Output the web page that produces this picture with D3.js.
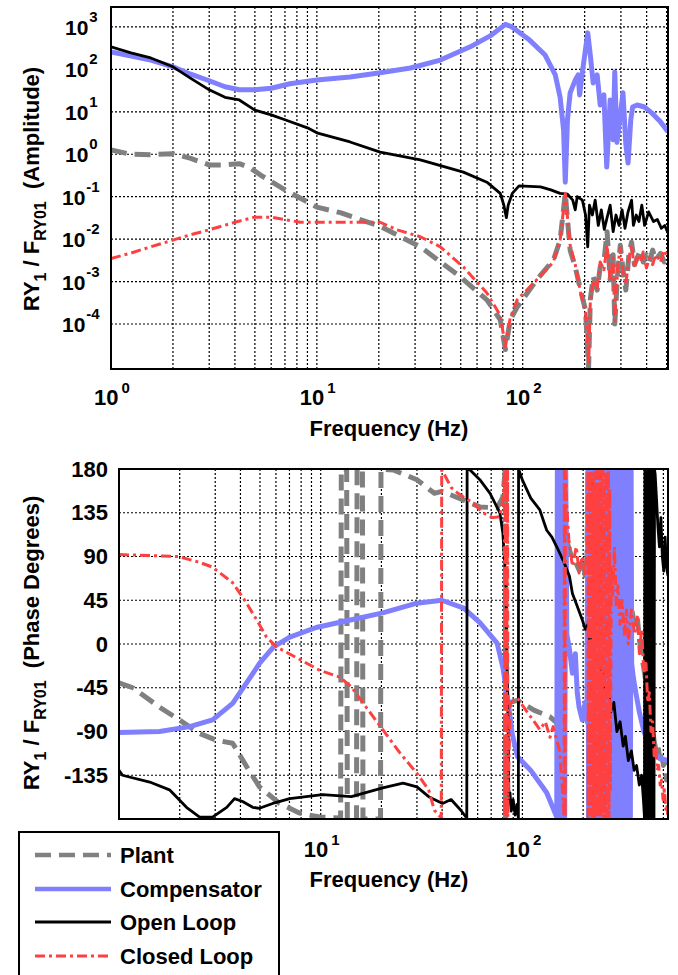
<!DOCTYPE html>
<html><head><meta charset="utf-8">
<script src="https://cdn.jsdelivr.net/npm/d3@7"></script>
<style>
body{margin:0;background:#fff;}
svg{display:block;font-family:"Liberation Sans",Arial,sans-serif;font-weight:bold;}
</style></head><body>
<svg id="c" width="678" height="975"></svg>
<script>
// ---------------- data ----------------
const seriesNames = ["Plant", "Compensator", "Open Loop", "Closed Loop"];
const ampTicks = [1e-4, 1e-3, 1e-2, 1e-1, 1e0, 1e1, 1e2, 1e3];
const ampExponents = ["-4", "-3", "-2", "-1", "0", "1", "2", "3"];
const phaseTicks = [-135, -90, -45, 0, 45, 90, 135, 180];
const freqTicksTop = [1, 10, 100];
const freqExponentsTop = ["0", "1", "2"];
const freqTicksBottom = [10, 100];
const freqExponentsBottom = ["1", "2"];

// magnitude [Hz, amplitude]
const plantMag = [[1,1.26],[1.25,1.0],[1.56,0.98],[2,1.03],[2.42,0.81],[3,0.56],[3.58,0.56],[4.2,0.6],[4.74,0.48],[5.4,0.31],[7,0.145],[10,0.057],[13,0.042],[20.3,0.02],[31.8,0.0066],[49.7,0.0013],[67,3.7e-4],[77.8,1.26e-4],[82.4,2.5e-5],[87,1.26e-4],[94,2.5e-4],[117,1.1e-3],[141,3.2e-3],[152,9.5e-3],[161,0.12],[170,5.5e-3],[180,2.2e-3],[191,6.3e-4],[202,2.1e-4],[209,9e-6],[213,3.7e-4],[220,1.3e-3],[230,6.3e-4],[238,2.2e-3],[248,2.9e-3],[257,0.015],[266,1.1e-3],[275,4.3e-3],[280,1e-4],[290,1.9e-3],[298,7.2e-3],[307,1.9e-3],[317,6.3e-4],[328,4.3e-3],[338,8.5e-3],[349,2.5e-3],[360,3.6e-3],[373,5.5e-3],[385,2.9e-3],[399,4.3e-3],[413,2.9e-3],[428,5.5e-3],[442,3.2e-3],[467,4.6e-3],[488,2.9e-3],[508,4.6e-3]];
const compMag = [[1,257],[1.56,166],[2,115],[2.42,78],[3,54],[3.58,39],[4.2,33],[5,33],[6,36],[7.4,46],[10,56],[14.5,66],[20.3,83],[28.5,108],[39.8,166],[55.6,340],[69.5,615],[82.4,1150],[88.7,1000],[108,490],[128.5,218],[144,74],[152,22],[158,3.7],[161,0.22],[165,6.5],[170,28],[180,56],[186,74],[189,25],[195,87],[207,725],[213,218],[220,48],[230,74],[238,14.5],[248,25],[256,0.5],[266,19],[275,2.2],[280,87],[287,1.9],[298,8.5],[307,28],[317,1.7],[325,0.62],[335,6.5],[342,13],[360,14.5],[390,13],[425,9.3],[467,5.8],[508,3.4]];
const openMag = [[1,340],[1.25,245],[1.56,186],[2,115],[2.42,63],[3,33],[3.58,22],[4.2,19],[5,11],[6,8.5],[7,6.5],[9,4.2],[10,3.2],[14.5,1.95],[20.3,1.12],[31.8,0.74],[51.5,0.38],[67,0.22],[77.8,0.12],[81,0.063],[83.3,0.032],[85,0.063],[89,0.12],[96,0.18],[122,0.17],[137,0.145],[152,0.12],[165,0.115],[175,0.083],[180,0.049],[184,0.10],[195,0.083],[202,0.037],[207,0.0066],[211,0.063],[218,0.037],[225,0.083],[233,0.021],[241,0.049],[249,0.017],[257,0.032],[266,0.063],[275,0.015],[284,0.037],[294,0.021],[304,0.049],[314,0.018],[325,0.044],[338,0.083],[345,0.021],[356,0.037],[367,0.026],[379,0.063],[391,0.021],[409,0.044],[432,0.026],[451,0.029],[472,0.018],[490,0.021],[508,0.014]];
const closedMag = [[1,3.5e-3],[1.25,4.7e-3],[1.56,6.6e-3],[2,9.5e-3],[2.42,0.0126],[3,0.0166],[4,0.025],[5,0.033],[6,0.033],[8.3,0.025],[11.6,0.025],[20.3,0.025],[24.5,0.0166],[31.8,0.0114],[39.8,0.0066],[51.5,0.0022],[67,5.4e-4],[77.8,1.6e-4],[82.4,2.9e-5],[87,1.4e-4],[94,3.7e-4],[117,1.1e-3],[141,2.9e-3],[152,9.5e-3],[161,0.12],[170,7.2e-3],[180,2.5e-3],[191,5.6e-4],[202,1.9e-4],[209,1.1e-5],[213,3.3e-4],[220,1.1e-3],[230,7e-4],[238,2.9e-3],[248,1.9e-3],[257,7.2e-3],[266,1e-3],[275,3.6e-3],[280,1.2e-4],[290,2.5e-3],[298,6.2e-3],[307,1.7e-3],[317,8.5e-4],[328,3.6e-3],[338,7.2e-3],[349,2.1e-3],[360,4.3e-3],[373,2.9e-3],[385,5e-3],[399,2.1e-3],[413,3.6e-3],[428,2.5e-3],[442,4.3e-3],[467,2.9e-3],[488,5.5e-3],[508,3.6e-3]];

// phase [Hz, degrees]
const plantPhase = [[1,-40],[1.17,-45],[1.59,-65],[1.99,-78],[2.51,-92],[3.04,-99],[3.66,-102],[4.29,-126],[4.97,-147],[6.26,-164],[7.88,-174],[9.87,-178],[12.4,-179],[12.55,-180],[12.65,180],[13.45,180],[13.55,-180],[15.05,-180],[15.15,180],[16.1,180],[16.2,-180],[19.8,-180],[19.9,180],[22.9,179],[30,169],[36.6,155],[39.8,157],[51.2,148],[61.5,141],[74.9,140],[80,151],[81.8,175],[82.4,180],[82.5,-180],[84,-120],[86.8,-60],[94.6,-58],[114,-68],[137,-75],[148,-81],[152,-100],[156,-150],[158,-180],[158.3,180],[162,130],[167,104],[175,90],[183,85],[191,76],[198,88],[205,70],[209,90],[211,178],[213,-178],[215,175],[217,-175],[219,178],[221,-170],[223,178],[225,-178],[228,165],[230,-178],[232,178],[235,-165],[237,178],[240,-178],[242,170],[245,-178],[247,178],[250,-170],[252,178],[255,-178],[257,168],[260,-178],[262,178],[265,-175],[267,178],[270,-178],[274,120],[280,60],[286,90],[292,45],[300,60],[310,30],[320,45],[330,20],[347,40],[360,15],[372,25],[385,-5],[400,-25],[410,-40],[420,-55],[430,-70],[440,-85],[450,-100],[460,-110],[470,-105],[480,-118],[490,-112],[500,-125],[510,-120],[518,-140],[527,-135]];
const compPhase = [[1,-91],[1.59,-90],[2.24,-85],[2.91,-78],[3.66,-61],[4.29,-40],[4.97,-20],[5.84,-3],[7.03,7],[9.5,17],[14.2,25],[20.3,32],[30,42],[39.8,45],[51.2,37],[61.5,22],[74.9,1],[80,-24],[84.8,-58],[88.9,-92],[94.6,-116],[110,-130],[132,-153],[148,-178],[149,178],[150,-178],[152,178],[153,-178],[155,178],[156,-178],[158,178],[159,-178],[161,178],[162,-178],[164,178],[166,10],[171,-5],[177,-30],[183,-10],[187,-50],[191,-65],[198,-78],[205,-60],[209,-80],[211,178],[213,-178],[216,178],[219,-178],[222,178],[225,-178],[228,178],[231,-178],[234,178],[237,-178],[240,178],[243,-178],[246,178],[249,-178],[252,178],[255,-178],[258,178],[261,-178],[264,178],[267,-178],[270,178],[273,-178],[278,-60],[282,-100],[284,178],[286,-178],[288,178],[291,-178],[293,178],[296,-178],[298,178],[301,-178],[304,178],[307,-178],[310,178],[313,-178],[316,178],[319,-178],[322,178],[325,-178],[328,178],[331,-178],[334,178],[337,-178],[340,178],[343,-178],[346,178],[348,-20],[355,-35],[365,-50],[380,-70],[400,-90],[430,-105],[460,-115],[490,-118],[527,-120]];
const openPhase = [[1,-130],[1.04,-135],[1.42,-142],[1.78,-150],[2.16,-168],[2.51,-178],[2.91,-178],[3.42,-168],[3.74,-159],[4.1,-162],[4.6,-168],[4.97,-169],[5.78,-164],[7.03,-159],[10.2,-155],[14.2,-157],[20.3,-148],[25.6,-143],[30,-147],[34.3,-157],[40.2,-164],[44.3,-160],[49.5,-171],[53,-179],[53.2,180],[55,179],[61.5,169],[69.1,155],[77.3,135],[80,114],[82.9,63],[83.8,-6],[84.8,-78],[85.8,-165],[86.8,-153],[88,-172],[90,-160],[92,-176],[94,-165],[95.5,-179],[95.7,180],[100.3,168],[110,150],[122,138],[128,125],[132,117],[140,110],[148,100],[160,85],[171,70],[177,52],[186,40],[198,25],[205,15],[211,20],[216,0],[222,5],[229,-15],[237,-10],[243,-35],[250,-25],[258,-50],[265,-40],[274,-70],[284,-60],[294,-90],[305,-80],[316,-105],[324,-95],[335,-120],[347,-110],[358,-130],[368,-125],[380,-145],[390,-135],[398,-160],[403,-179],[405,179],[407,-179],[410,179],[413,-179],[416,179],[419,-179],[422,179],[425,-179],[428,179],[431,-179],[434,179],[437,-179],[440,179],[443,-179],[446,179],[449,-179],[452,179],[455,175],[462,150],[470,120],[478,100],[486,130],[494,90],[502,75],[510,110],[518,80],[527,70]];
const closedPhase = [[1,92],[1.97,90],[2.51,84],[2.91,79],[3.66,63],[4.2,45],[4.81,25],[5.39,7],[6.05,-3],[7.88,-16],[9.87,-27],[12.4,-34],[14.2,-44],[16.8,-65],[20.3,-88],[24.7,-112],[30,-133],[34.3,-150],[36.6,-171],[39.6,-179],[39.8,179],[40.2,178],[44.3,161],[47.9,155],[51.2,151],[57,145],[63.8,135],[71.3,130],[77.3,131],[80,148],[81.5,175],[81.6,-178],[82.6,178],[82.8,-178],[84.5,178],[84.7,-178],[86.8,-61],[94.6,-56],[110,-75],[122,-88],[130,-80],[137,-96],[142,-85],[148,-99],[153,-110],[158,-150],[161,-178],[161.3,178],[163,-178],[163.3,178],[166,140],[170,107],[177,80],[185,100],[191,73],[198,90],[205,70],[209,100],[211,178],[212,-178],[214,160],[215,-175],[217,178],[219,-160],[220,175],[222,-178],[224,170],[225,-170],[227,178],[229,-178],[231,150],[233,-175],[235,178],[237,-178],[239,165],[241,-170],[243,178],[245,-178],[247,172],[249,-165],[251,178],[253,-178],[255,168],[257,-175],[259,178],[261,-178],[263,175],[265,-170],[267,178],[269,-178],[271,160],[273,-150],[276,80],[280,50],[286,100],[292,40],[298,60],[305,20],[312,45],[320,10],[328,35],[335,0],[347,35],[360,10],[372,30],[380,-10],[390,15],[400,-30],[410,-20],[418,-60],[426,-50],[434,-90],[442,-80],[450,-115],[458,-105],[466,-130],[474,-125],[482,-145],[490,-140],[498,-160],[506,-150],[514,-170],[520,-165],[527,-178]];

// ---------------- drawing ----------------
const styles = {
  "Plant":       {color:"#808080", width:5,   dash:"16,8"},
  "Compensator": {color:"#8080ff", width:5,   dash:null},
  "Open Loop":   {color:"#000000", width:2.8, dash:null},
  "Closed Loop": {color:"#ff4040", width:3,   dash:"10,4,3,4"}
};
const magData = {"Plant":plantMag, "Compensator":compMag, "Open Loop":openMag, "Closed Loop":closedMag};
const phaseData = {"Plant":plantPhase, "Compensator":compPhase, "Open Loop":openPhase, "Closed Loop":closedPhase};

const svg = d3.select("#c");
const pA = {l:111, r:668, t:7, b:369};
const pB = {l:119, r:668, t:469, b:819};

const xA = d3.scaleLog().domain([1, 508]).range([pA.l, pA.r]);
const yA = d3.scaleLog().domain([Math.pow(10,-5.06), Math.pow(10,3.47)]).range([pA.b, pA.t]);
const xB = d3.scaleLog().domain([1, 527]).range([pB.l, pB.r]);
const yB = d3.scaleLinear().domain([-180, 180]).range([pB.b, pB.t]);

const defs = svg.append("defs");
[["clipA",pA],["clipB",pB]].forEach(([id,p])=>{
  defs.append("clipPath").attr("id",id).append("rect")
    .attr("x",p.l).attr("y",p.t).attr("width",p.r-p.l).attr("height",p.b-p.t);
});

function minorFreqs(x){
  const [a,b] = x.domain(); const out=[];
  [1,10,100].forEach(d=>{ for(let k=1;k<=9;k++){ const f=k*d; if(f>a*1.001 && f<b*0.999) out.push(f);} });
  return out;
}
function grid(p, x, y, hvals){
  const g = svg.append("g").attr("stroke","#000").attr("stroke-width",1.2).attr("stroke-dasharray","2,2");
  minorFreqs(x).forEach(f=>{
    g.append("line").attr("x1",x(f)).attr("x2",x(f)).attr("y1",p.t).attr("y2",p.b);
  });
  hvals.forEach(v=>{
    const yy=y(v); if(yy<=p.t+1||yy>=p.b-1) return;
    g.append("line").attr("x1",p.l).attr("x2",p.r).attr("y1",yy).attr("y2",yy);
  });
}
grid(pA, xA, yA, ampTicks);
grid(pB, xB, yB, phaseTicks);

function drawSeries(clip, x, y, dataMap){
  const g = svg.append("g").attr("clip-path",`url(#${clip})`);
  const line = d3.line().x(d=>x(d[0])).y(d=>y(d[1]));
  seriesNames.forEach(n=>{
    const s=styles[n];
    g.append("path").attr("d",line(dataMap[n])).attr("fill","none")
      .attr("stroke",s.color).attr("stroke-width",s.width)
      .attr("stroke-linejoin","round")
      .attr("stroke-dasharray",s.dash);
  });
}
drawSeries("clipA", xA, yA, magData);
drawSeries("clipB", xB, yB, phaseData);

// frames
[pA,pB].forEach(p=>{
  svg.append("rect").attr("x",p.l).attr("y",p.t).attr("width",p.r-p.l).attr("height",p.b-p.t)
    .attr("fill","none").attr("stroke","#000").attr("stroke-width",2);
});

// y tick labels (amplitude): "10" with superscript exponent, one text each
ampTicks.forEach((v,i)=>{
  const yy=yA(v);
  const neg = ampExponents[i].startsWith("-");
  const t = svg.append("text").attr("x", neg ? 62 : 65).attr("y",yy+8).attr("text-anchor","start").style("font-size","21px");
  t.append("tspan").text("10");
  t.append("tspan").attr("dx", 1).attr("dy",-13).style("font-size","15px").text(ampExponents[i]);
});
// phase tick labels
phaseTicks.forEach(v=>{
  svg.append("text").attr("x",108).attr("y",yB(v)+7.5).attr("text-anchor","end").style("font-size","22px").text(v);
});
// x tick labels
function xLabels(x, ticks, exps, base){
  ticks.forEach((f,i)=>{
    const xx=x(f);
    const t = svg.append("text").attr("x",xx-17).attr("y",base).attr("text-anchor","start").style("font-size","22px");
    t.append("tspan").text("10");
    t.append("tspan").attr("dx",3).attr("dy",-12).style("font-size","15px").text(exps[i]);
  });
}
xLabels(xA, freqTicksTop, freqExponentsTop, 405);
xLabels(xB, freqTicksBottom, freqExponentsBottom, 857);

// axis titles
svg.append("text").attr("x",389).attr("y",436).attr("text-anchor","middle").style("font-size","22px").text("Frequency (Hz)");
svg.append("text").attr("x",389).attr("y",887).attr("text-anchor","middle").style("font-size","22px").text("Frequency (Hz)");

function yTitle(cy, tail){
  const t = svg.append("text").attr("transform",`translate(39,${cy}) rotate(-90)`)
    .attr("text-anchor","middle").style("font-size","22px");
  t.append("tspan").text("RY");
  t.append("tspan").attr("dy",7).style("font-size","16px").text("1");
  t.append("tspan").attr("dy",-7).text("\u00a0/\u00a0F");
  t.append("tspan").attr("dy",7).style("font-size","16px").text("RY01");
  t.append("tspan").attr("dy",-7).text("\u00a0\u00a0" + tail);
}
yTitle(189, "(Amplitude)");
yTitle(643, "(Phase Degrees)");

// legend
const lg = svg.append("g");
lg.append("rect").attr("x",19).attr("y",832).attr("width",260).attr("height",170)
  .attr("fill","#fff").attr("stroke","#000").attr("stroke-width",2);
const legY = [855, 889, 922, 956];
seriesNames.forEach((n,i)=>{
  const s=styles[n];
  lg.append("line").attr("x1",35).attr("x2",111).attr("y1",legY[i]).attr("y2",legY[i])
    .attr("stroke",s.color).attr("stroke-width",s.width===5?4.5:s.width)
    .attr("stroke-dasharray",s.dash);
  lg.append("text").attr("x",120).attr("y",legY[i]+8).style("font-size","22px").text(n);
});
</script>
</body></html>
